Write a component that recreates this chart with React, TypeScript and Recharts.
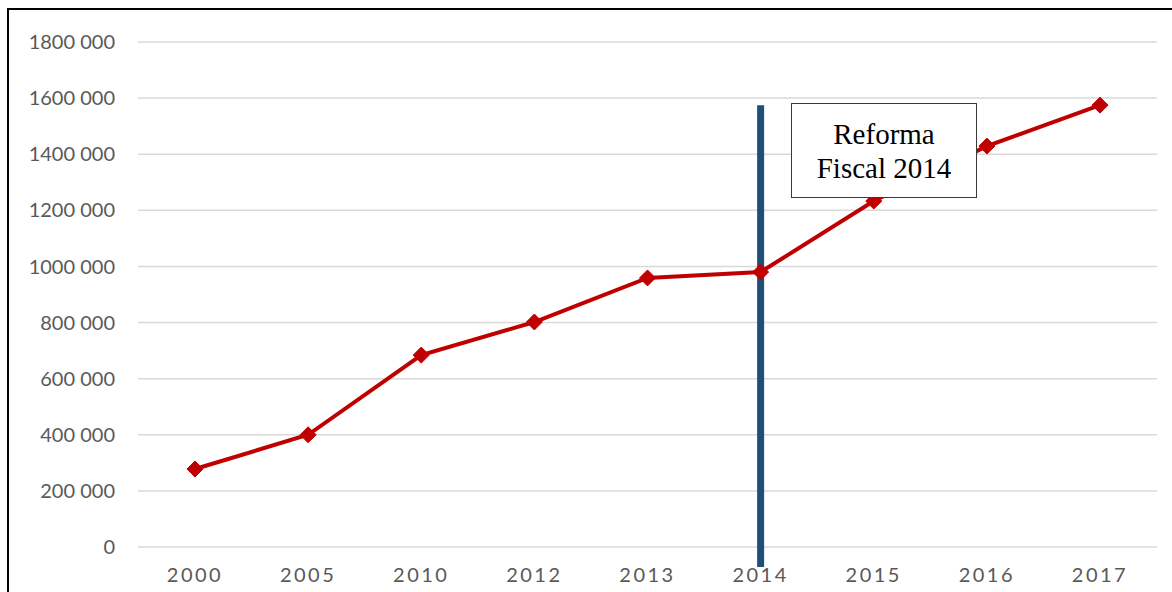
import React from 'react';
import {
  LineChart,
  Line,
  XAxis,
  YAxis,
  CartesianGrid,
  ReferenceLine,
} from 'recharts';

const years = ['2000', '2005', '2010', '2012', '2013', '2014', '2015', '2016', '2017'];
const revenue = [278000, 400000, 684000, 802000, 959000, 980000, 1233000, 1429000, 1575000];
const yTicks = [0, 200000, 400000, 600000, 800000, 1000000, 1200000, 1400000, 1600000, 1800000];
const reformYear = '2014';
const reformLabel = ['Reforma', 'Fiscal 2014'];

const data = years.map((year, i) => ({ year, value: revenue[i] }));

const fmt = (v: number) => {
  if (v === 0) return '0';
  const th = Math.floor(v / 1000);
  return `${th} 000`;
};

function Diamond(props: any) {
  const { cx, cy } = props;
  if (cx == null || cy == null) return null;
  const r = 8;
  return (
    <polygon
      points={`${cx},${cy - r} ${cx + r},${cy} ${cx},${cy + r} ${cx - r},${cy}`}
      fill="#C00000"
      stroke="#C00000"
    />
  );
}

export default function App() {
  return (
    <div
      style={{
        position: 'fixed',
        left: 0,
        top: 0,
        width: 1172,
        height: 592,
        overflow: 'hidden',
        background: '#fff',
      }}
    >
      <div
        style={{
          position: 'absolute',
          left: 7,
          top: 8,
          width: 1180,
          height: 620,
          border: '2px solid #000',
          boxSizing: 'border-box',
        }}
      />
      <LineChart
        width={1172}
        height={592}
        data={data}
        margin={{ top: 42, right: 15, bottom: 15, left: 0 }}
        style={{ position: 'absolute', left: 0, top: 0 }}
      >
        <CartesianGrid vertical={false} stroke="#D9D9D9" strokeWidth={1.5} />
        <XAxis
          dataKey="year"
          height={30}
          padding={{ left: 57, right: 57 }}
          axisLine={false}
          tickLine={false}
          tickSize={0}
          tickMargin={21}
          tick={{ fill: '#595959', fontSize: 20, fontFamily: 'Lato', letterSpacing: 2.5 }}
        />
        <YAxis
          width={138}
          domain={[0, 1800000]}
          ticks={yTicks}
          tickFormatter={fmt}
          axisLine={false}
          tickLine={false}
          tickSize={0}
          tickMargin={23}
          tick={{ fill: '#595959', fontSize: 20, fontFamily: 'Lato' }}
        />
        <ReferenceLine
          segment={[
            { x: reformYear, y: 1575000 },
            { x: reformYear, y: -71000 },
          ]}
          stroke="#1F4E79"
          strokeWidth={7}
          ifOverflow="visible"
        />
        <Line
          dataKey="value"
          stroke="#C00000"
          strokeWidth={4}
          dot={<Diamond />}
          activeDot={false}
          isAnimationActive={false}
        />
      </LineChart>
      <div
        style={{
          position: 'absolute',
          left: 791,
          top: 103,
          width: 186,
          height: 95,
          border: '1.5px solid #3a3a3a',
          boxSizing: 'border-box',
          background: '#fff',
          fontFamily: '"Liberation Serif", "Times New Roman", serif',
          fontSize: 29,
          lineHeight: '34px',
          color: '#000',
          textAlign: 'center',
          display: 'flex',
          flexDirection: 'column',
          justifyContent: 'center',
        }}
      >
        {reformLabel.map((t) => (
          <div key={t}>{t}</div>
        ))}
      </div>
    </div>
  );
}
